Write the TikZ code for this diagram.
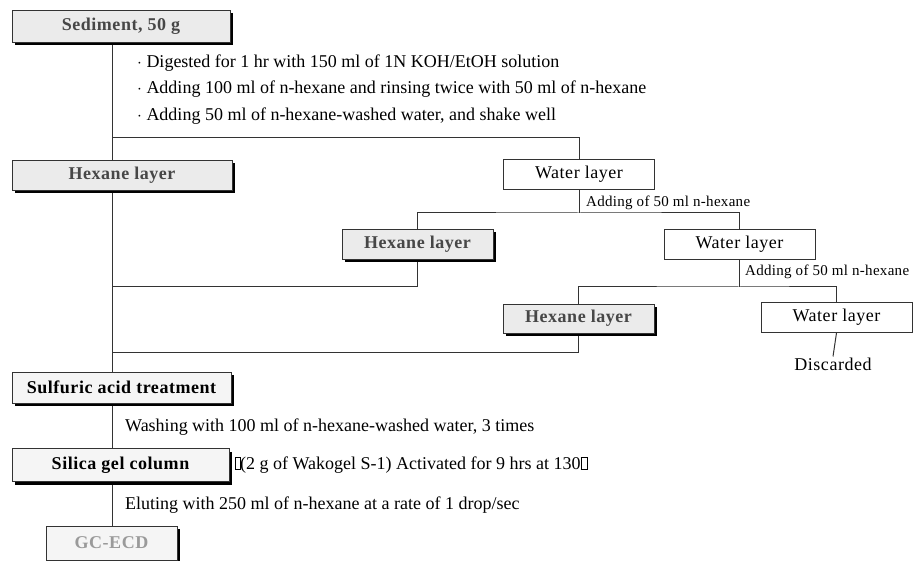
\documentclass[tikz,border=0pt]{standalone}
\usepackage{fontspec}
\setmainfont{Liberation Serif}
\newfontfamily\labfont{Liberation Serif}[LetterSpace=3]
\newfontfamily\addfont{Liberation Serif}[LetterSpace=2]
\usetikzlibrary{shapes,backgrounds,shadows}
\definecolor{linegray}{HTML}{333333}
\definecolor{hexfill}{HTML}{EBEBEB}
\definecolor{stepfill}{HTML}{F5F5F5}
\definecolor{hextext}{HTML}{474747}
\definecolor{gctext}{HTML}{9A9A9A}
\newcommand{\nochar}[1]{{\fboxsep=0pt\fboxrule=0.5pt\fbox{\rule{0pt}{12pt}\hspace{#1}}}}

\begin{document}
\begin{tikzpicture}[x=1pt,y=-1pt,
  conn/.style={draw=linegray, line width=1pt},
  shadowbox/.style={draw=linegray, line width=0.8pt, fill=#1, inner sep=0pt,
    drop shadow={shadow xshift=3pt, shadow yshift=-3pt, fill=black, opacity=1},
    font=\fontsize{18}{20}\labfont\bfseries},
  waterbox/.style={draw=linegray, line width=0.8pt, fill=white, inner sep=0pt,
    minimum width=151pt, minimum height=30pt, font=\fontsize{18}{20}\labfont},
  note/.style={anchor=west, inner sep=0pt, font=\fontsize{18}{20}\selectfont},
  addnote/.style={anchor=west, inner sep=0pt, font=\fontsize{15}{17}\addfont}]
\useasboundingbox (0,0) rectangle (913,561);
\node[shadowbox=hexfill, text=hextext, minimum width=218pt, minimum height=32pt] (sed) at (121,26) {Sediment, 50 g};
\node[shadowbox=hexfill, text=hextext, minimum width=220pt, minimum height=30pt] (hex1) at (122,175) {Hexane layer};
\node[waterbox] (wat1) at (579,174.5) {Water layer};
\node[shadowbox=hexfill, text=hextext, minimum width=151pt, minimum height=30pt] (hex2) at (417.5,244) {Hexane layer};
\node[waterbox] (wat2) at (739.5,244) {Water layer};
\node[shadowbox=hexfill, text=hextext, minimum width=151pt, minimum height=29pt] (hex3) at (578.5,318.5) {Hexane layer};
\node[waterbox] (wat3) at (836.5,317.5) {Water layer};
\node[inner sep=1pt, font=\fontsize{18}{20}\labfont] (disc) at (833,364) {Discarded};
\node[shadowbox=stepfill, minimum width=219pt, minimum height=31pt] (sulf) at (121.5,387.5) {Sulfuric acid treatment};
\node[shadowbox=stepfill, minimum width=217pt, minimum height=33pt] (sil) at (120.5,465) {Silica gel column};
\node[shadowbox=stepfill, text=gctext, minimum width=131pt, minimum height=34pt] (gc) at (111.5,543) {GC-ECD};

\node[note] (dig) at (137,63) {$\cdot$ Digested for 1 hr with 150 ml of 1N KOH/EtOH solution};
\node[note] (rinse) at (137,89) {$\cdot$ Adding 100 ml of n-hexane and rinsing twice with 50 ml of n-hexane};
\node[note] (shake) at (137,116) {$\cdot$ Adding 50 ml of n-hexane-washed water, and shake well};
\node[addnote] (add1) at (586,203) {Adding of 50 ml n-hexane};
\node[addnote] (add2) at (745,272) {Adding of 50 ml n-hexane};
\node[note] (wash) at (125,427) {Washing with 100 ml of n-hexane-washed water, 3 times};
\node[note] (act) at (235,465) {\nochar{4pt}(2 g of Wakogel S-1) Activated for 9 hrs at 130\nochar{6pt}};
\node[note] (elut) at (125,505) {Eluting with 250 ml of n-hexane at a rate of 1 drop/sec};

\coordinate (trunk) at (112,0);
\coordinate (split1) at (112,138);
\coordinate (split2) at (579,213);
\coordinate (split3) at (739.5,287);
\coordinate (merge1) at (112,287);
\coordinate (merge2) at (112,352);
\begin{scope}[on background layer]
\draw[conn] (sed.south -| trunk) -- (gc.north -| trunk);
\draw[conn] (split1) -| (wat1.north);
\draw[conn] (wat1.south) -- (split2);
\draw[conn] (hex2.north) |- (split2) -| (wat2.north);
\draw[conn] (hex2.south) |- (merge1);
\draw[conn] (wat2.south) -- (split3);
\draw[conn] (hex3.north) |- (split3) -| (wat3.north);
\draw[conn] (hex3.south) |- (merge2);
\draw[conn] (wat3.south) -- (disc.north);
\end{scope}
\end{tikzpicture}
\end{document}
